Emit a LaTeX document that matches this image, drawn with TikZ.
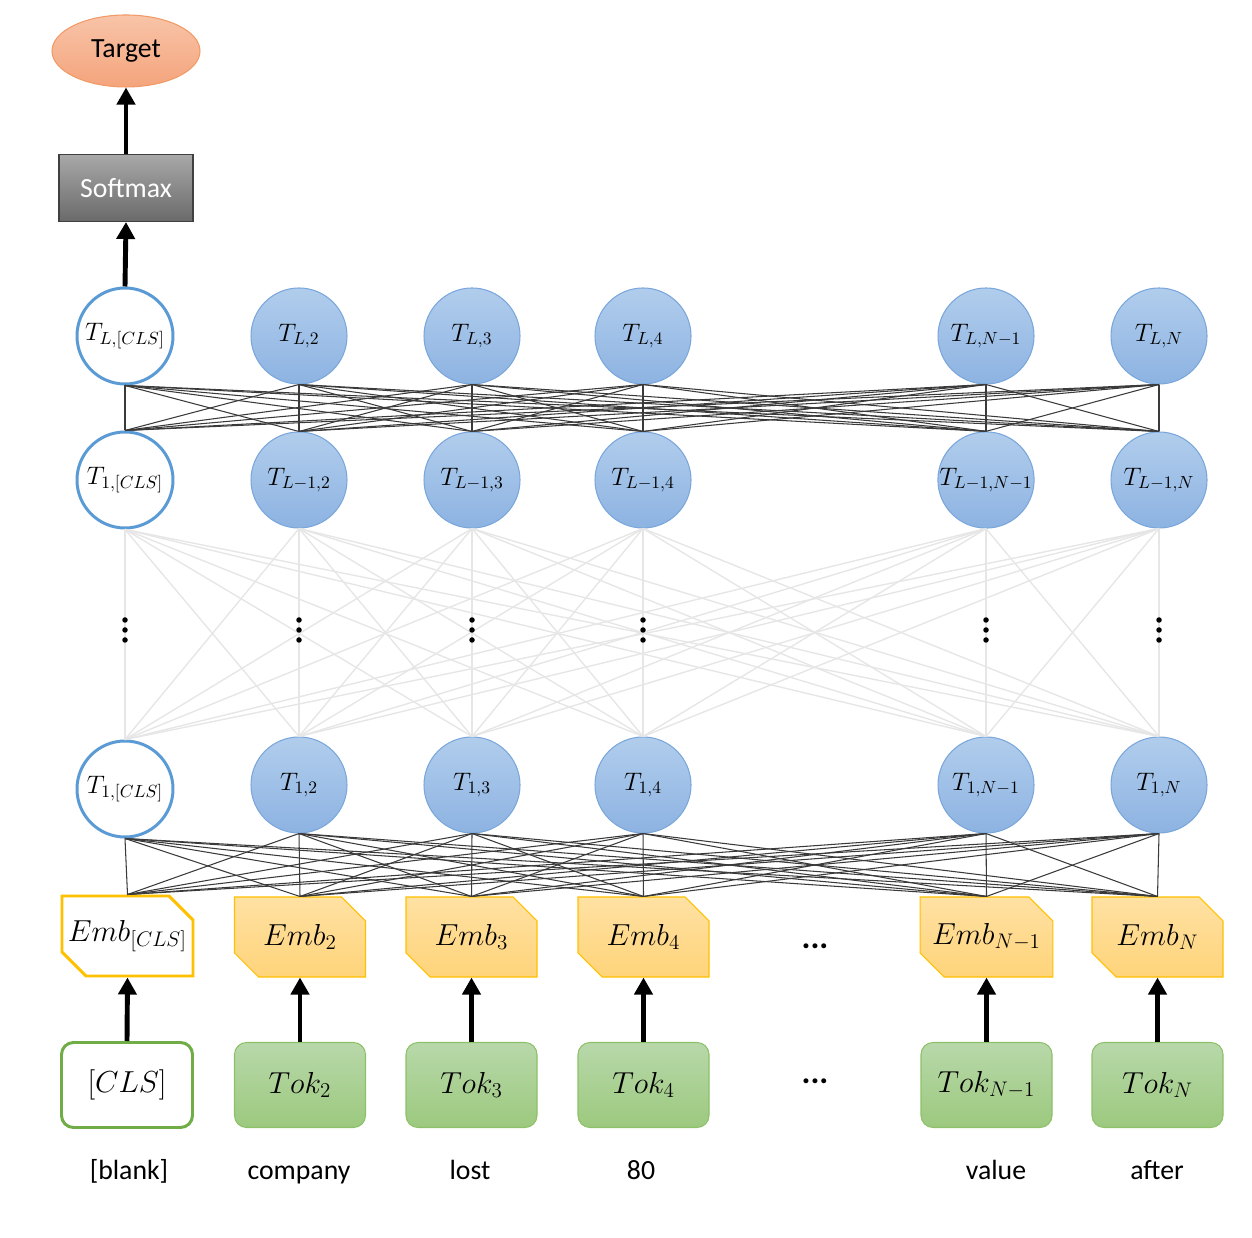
\documentclass[tikz,border=0pt]{standalone}
\usepackage{fontspec}
\setmainfont{Carlito}
\usepackage{tikz}
\usetikzlibrary{arrows.meta,shapes.geometric,shapes.misc}
\definecolor{celltop}{HTML}{B1CDEC}
\definecolor{cellbot}{HTML}{8DB3E2}
\definecolor{cellborder}{HTML}{7AA7DB}
\definecolor{clsblue}{HTML}{5B9BD5}
\definecolor{embtop}{HTML}{FFE1A3}
\definecolor{embbot}{HTML}{FFD47A}
\definecolor{embborder}{HTML}{FFC000}
\definecolor{toktop}{HTML}{B8D8AA}
\definecolor{tokbot}{HTML}{9CC97E}
\definecolor{tokborder}{HTML}{8CC168}
\definecolor{clsgreen}{HTML}{70AD47}
\definecolor{targettop}{HTML}{F8C4A8}
\definecolor{targetbot}{HTML}{F4A47C}
\definecolor{targetborder}{HTML}{F19A66}
\definecolor{softtop}{HTML}{A8A8A8}
\definecolor{softbot}{HTML}{6A6A6A}
\definecolor{linkdark}{HTML}{3A3A3A}
\definecolor{linklight}{HTML}{E6E6E6}

\begin{document}
\begin{tikzpicture}[
  x=1cm,
  y=1cm,
  font=\fontsize{15.8}{19}\selectfont,
  cell/.style={circle, minimum size=1.92cm, inner sep=0pt, draw=cellborder,
    line width=0.6pt, top color=celltop, bottom color=cellbot,
    font=\fontsize{14}{16}\selectfont},
  clscell/.style={cell, draw=clsblue, line width=1.7pt, fill=white,
    top color=white, bottom color=white},
  embbox/.style={chamfered rectangle,
    chamfered rectangle corners={north east,south west},
    chamfered rectangle xsep=0.24cm, chamfered rectangle ysep=0.24cm,
    minimum width=2.62cm, minimum height=1.6cm, inner sep=0pt,
    draw=embborder, line width=0.6pt, top color=embtop, bottom color=embbot,
    font=\fontsize{17}{20}\selectfont},
  clsemb/.style={embbox, line width=1.7pt, top color=white, bottom color=white},
  tokbox/.style={rectangle, rounded corners=0.24cm, minimum width=2.62cm,
    minimum height=1.7cm, inner sep=0pt, draw=tokborder, line width=0.6pt,
    top color=toktop, bottom color=tokbot, font=\fontsize{17}{20}\selectfont},
  clstok/.style={tokbox, draw=clsgreen, line width=1.7pt, top color=white,
    bottom color=white},
  word/.style={anchor=base, inner sep=1pt},
  skip/.style={font=\fontsize{19}{22}\selectfont\bfseries},
  flow/.style={-{Triangle[length=3.4mm,width=3.6mm]}, line width=2.8pt},
  dense/.style={draw=linkdark, line width=0.6pt},
  faint/.style={draw=linklight, line width=0.8pt}
]
\useasboundingbox (0,0) rectangle (25.04,24.74);

% Output head
\node[ellipse, minimum width=2.96cm, minimum height=1.44cm, inner sep=0pt,
      draw=targetborder, line width=0.6pt, top color=targettop,
      bottom color=targetbot] (target) at (2.52,23.72) {Target};
\node[rectangle, minimum width=2.68cm, minimum height=1.34cm, draw=black!75,
      line width=0.6pt, top color=softtop, bottom color=softbot, text=white]
      (softmax) at (2.52,20.98) {Softmax};

% Layer L
\node[clscell] (lcls) at (2.50,18.02) {$T_{L,[CLS]}$};
\node[cell] (l2) at (5.98,18.02) {$T_{L,2}$};
\node[cell] (l3) at (9.44,18.02) {$T_{L,3}$};
\node[cell] (l4) at (12.86,18.02) {$T_{L,4}$};
\node[cell] (ln1) at (19.72,18.02) {$T_{L,N-1}$};
\node[cell] (ln) at (23.18,18.02) {$T_{L,N}$};

% Layer L-1
\node[clscell] (mcls) at (2.50,15.14) {$T_{1,[CLS]}$};
\node[cell] (m2) at (5.98,15.14) {$T_{L-1,2}$};
\node[cell] (m3) at (9.44,15.14) {$T_{L-1,3}$};
\node[cell] (m4) at (12.86,15.14) {$T_{L-1,4}$};
\node[cell] (mn1) at (19.72,15.14) {$T_{L-1,N-1}$};
\node[cell] (mn) at (23.18,15.14) {$T_{L-1,N}$};

% Layer 1
\node[clscell] (fcls) at (2.50,8.96) {$T_{1,[CLS]}$};
\node[cell] (f2) at (5.98,9.04) {$T_{1,2}$};
\node[cell] (f3) at (9.44,9.04) {$T_{1,3}$};
\node[cell] (f4) at (12.86,9.04) {$T_{1,4}$};
\node[cell] (fn1) at (19.72,9.04) {$T_{1,N-1}$};
\node[cell] (fn) at (23.18,9.04) {$T_{1,N}$};

% Embeddings
\node[clsemb] (ecls) at (2.55,6.02) {\makebox[1.9cm]{$Emb_{[CLS]}$}};
\node[embbox] (e2) at (6.00,6.00) {$Emb_2$};
\node[embbox] (e3) at (9.43,6.00) {$Emb_3$};
\node[embbox] (e4) at (12.87,6.00) {$Emb_4$};
\node[embbox] (en1) at (19.73,6.00) {$Emb_{N-1}$};
\node[embbox] (en) at (23.15,6.00) {$Emb_N$};
\node[skip] (edots) at (16.30,5.82) {...};

% Tokens
\node[clstok] (kcls) at (2.54,3.04) {$[CLS]$};
\node[tokbox] (k2) at (6.00,3.04) {$Tok_2$};
\node[tokbox] (k3) at (9.43,3.04) {$Tok_3$};
\node[tokbox] (k4) at (12.87,3.04) {$Tok_4$};
\node[tokbox] (kn1) at (19.73,3.04) {$Tok_{N-1}$};
\node[tokbox] (kn) at (23.15,3.04) {$Tok_N$};
\node[skip] (kdots) at (16.30,3.12) {...};

% Input words
\node[word] (wcls) at (2.58,1.15) {[blank]};
\node[word] (w2) at (5.98,1.15) {company};
\node[word] (w3) at (9.40,1.15) {lost};
\node[word] (w4) at (12.82,1.15) {80};
\node[word] (wn1) at (19.92,1.15) {value};
\node[word] (wn) at (23.14,1.15) {after};

% Dense links between layers
\foreach \a in {lcls,l2,l3,l4,ln1,ln}
  \foreach \b in {mcls,m2,m3,m4,mn1,mn}
    \draw[dense] (\a.south) -- (\b.north);
\foreach \a in {mcls,m2,m3,m4,mn1,mn}
  \foreach \b in {fcls,f2,f3,f4,fn1,fn}
    \draw[faint] (\a.south) -- (\b.north);
\foreach \a in {fcls,f2,f3,f4,fn1,fn}
  \foreach \b in {ecls,e2,e3,e4,en1,en}
    \draw[dense] (\a.south) -- (\b.north);

% Skipped layers
\foreach \x in {2.50,5.98,9.44,12.86,19.72,23.18}
  \foreach \k in {-0.2,0,0.2}
    \fill (\x,12.14+\k) circle (0.055);

% Arrows
\draw[flow] (softmax.north) -- (target.south);
\draw[flow] (lcls.north) -- (softmax.south);
\foreach \t/\e in {kcls/ecls,k2/e2,k3/e3,k4/e4,kn1/en1,kn/en}
  \draw[flow] (\t.north) -- (\e.south);
\end{tikzpicture}
\end{document}
